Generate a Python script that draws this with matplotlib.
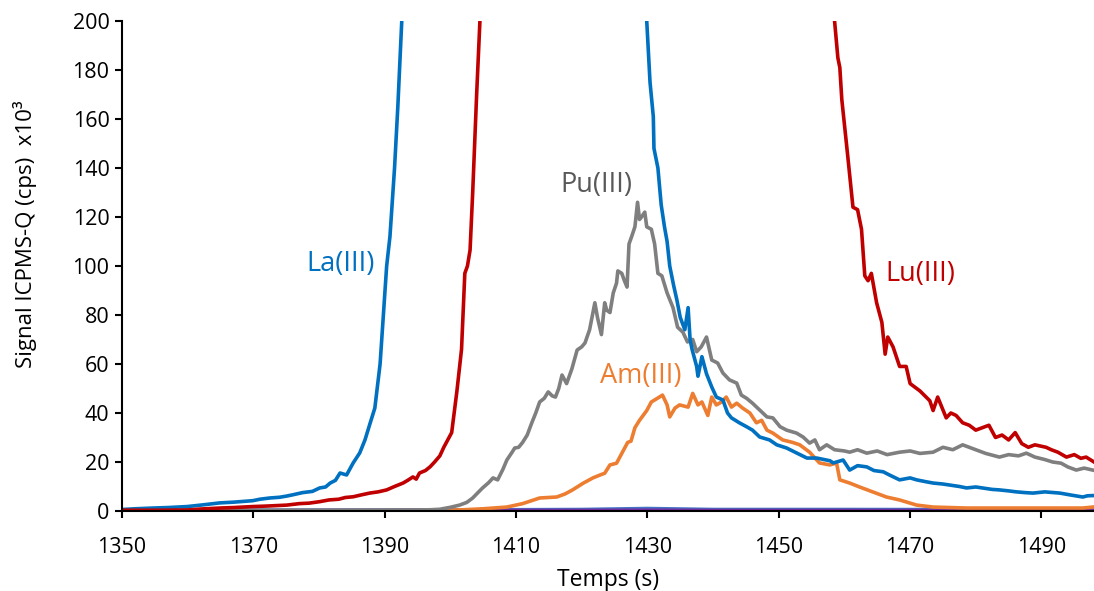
import numpy as np
import matplotlib
matplotlib.use("Agg")
import matplotlib.pyplot as plt

plt.rcParams['font.family'] = ['Open Sans', 'DejaVu Sans']

# Temps (s) et signal (cps x10^3)
t_la = [1350, 1352, 1354.7, 1357, 1359.9, 1362, 1364.9, 1367, 1369.9, 1371, 1372.5, 1374,
        1375.1, 1376, 1377.5, 1379, 1380.1, 1381, 1381.7, 1382.5, 1383.2, 1384.2, 1385.2,
        1386.2, 1387, 1387.8, 1388.5, 1389.3, 1389.8, 1390.3, 1390.8, 1391.5, 1392, 1392.6,
        1393.2, 1395, 1400, 1410, 1420, 1428, 1429.3, 1429.9, 1430.4, 1430.9, 1431.0, 1431.6,
        1432.1, 1432.6, 1433, 1433.4, 1434, 1434.5, 1435, 1435.7, 1436.2, 1436.5, 1436.8,
        1437.5, 1437.7, 1438.3, 1439, 1439.8, 1440.5, 1441.5, 1442.2, 1442.8, 1444, 1445.1,
        1446, 1447.1, 1448.6, 1449.7, 1451.2, 1452.7, 1454.3, 1455.8, 1457.8, 1458.3, 1459.8,
        1460.8, 1462, 1463.4, 1464.5, 1465.9, 1467, 1468.4, 1470, 1471, 1472.3, 1473.5, 1475,
        1476, 1477.5, 1478.6, 1480, 1481, 1482.5, 1483.6, 1485, 1486.2, 1487.5, 1488.7, 1490.5,
        1492.8, 1494.5, 1496.3, 1497, 1498]
la = [0.6, 0.9, 1.2, 1.4, 1.8, 2.4, 3.3, 3.6, 4.2, 4.8, 5.3, 5.6, 6.1, 6.6, 7.5, 8.0, 9.4, 9.8,
      11.4, 12.5, 15.5, 14.7, 19.6, 23.7, 29, 36, 42, 60, 80, 100, 112, 140, 165, 200, 240, 400,
      900, 1500, 900, 300, 230, 200, 175, 161, 148, 140, 125, 116, 110, 100, 92, 86, 79, 74, 83,
      70, 66, 59, 55, 63, 56, 50.6, 46.5, 45.3, 40, 38, 36, 34.4, 33, 30.2, 29, 27, 25.7, 23.7,
      21.6, 21.6, 20.5, 19.6, 20.8, 16.7, 18.5, 18, 16.5, 16, 14.5, 12.7, 13.5, 12.7, 12, 11.4,
      11, 10.6, 10, 9.4, 9.8, 9.4, 8.8, 8.6, 8.2, 7.8, 7.5, 7.3, 7.8, 7.3, 6.5, 5.7, 6.2, 6.3]

t_lu = [1350, 1355, 1359.9, 1362, 1364.9, 1367, 1369.9, 1372, 1375.1, 1377, 1378.5, 1380.1,
        1381.5, 1383, 1384, 1385.2, 1386.5, 1387.7, 1389, 1390.3, 1391.5, 1392.8, 1393.5,
        1394.3, 1394.8, 1395.3, 1396.2, 1396.9, 1397.6, 1398.4, 1399, 1399.6, 1400.2, 1401,
        1401.7, 1402.2, 1402.6, 1403, 1403.4, 1404, 1404.5, 1405, 1410, 1430, 1450, 1457,
        1458.5, 1459, 1459.3, 1459.6, 1460.5, 1461.3, 1462, 1462.6, 1463.1, 1463.6, 1464.1,
        1464.9, 1465.7, 1466.2, 1466.6, 1467.4, 1468.4, 1469.4, 1470, 1471.5, 1473, 1473.5,
        1474.2, 1475.5, 1476.2, 1477, 1478, 1479, 1480, 1481, 1482, 1483, 1484, 1485, 1486,
        1487, 1488, 1489, 1490.7, 1491.5, 1492.5, 1493.8, 1495, 1496, 1496.8, 1498]
lu = [0.3, 0.3, 0.4, 0.8, 1.2, 1.4, 1.8, 2.0, 2.4, 3.0, 3.2, 3.8, 4.5, 4.8, 5.5, 5.8, 6.6, 7.3,
      7.8, 8.6, 10, 11.4, 12.5, 13.9, 13, 15.5, 16.5, 18, 20, 22.5, 26, 29, 32, 49, 66, 97, 100,
      106.5, 130, 170, 200, 240, 600, 1000, 500, 260, 200, 185, 181, 168, 145, 124, 123, 115, 96,
      94, 97, 85, 77, 64, 71, 67, 59, 59, 52, 49, 45, 41, 46.5, 38, 40, 39, 36, 35, 33, 34, 35,
      30, 31, 29, 32, 27.5, 26, 27, 26, 25, 24, 22, 23, 21.5, 22, 20]

t_pu = [1350, 1360, 1370, 1380, 1390, 1395, 1397, 1398.4, 1400, 1401.4, 1402.5, 1403.4, 1404.2,
        1404.9, 1405.8, 1406.5, 1407.2, 1408, 1408.6, 1409.4, 1409.8, 1410.4, 1411, 1411.7,
        1412.4, 1413, 1413.6, 1414.3, 1414.9, 1415.5, 1416, 1416.5, 1417, 1417.7, 1418.5,
        1419.3, 1420, 1420.5, 1421.2, 1422, 1422.4, 1423, 1423.5, 1423.8, 1424.3, 1424.8,
        1425.3, 1425.5, 1426.1, 1426.5, 1426.9, 1427.2, 1427.6, 1428.1, 1428.5, 1428.8, 1429.1,
        1429.6, 1429.9, 1430.6, 1431.1, 1431.6, 1432.2, 1433, 1433.9, 1434.6, 1435.4, 1436.1,
        1436.9, 1437.5, 1438.2, 1439, 1439.8, 1440.7, 1441.5, 1442.5, 1443.6, 1444.3, 1445.1,
        1446, 1447.1, 1448.2, 1449.1, 1450.2, 1451.2, 1452.7, 1453.7, 1454.7, 1455.5, 1456.2,
        1457.3, 1458.5, 1460, 1460.8, 1462, 1463.4, 1465, 1466.5, 1468.4, 1470, 1471.5, 1473.5,
        1475, 1476.5, 1478, 1479, 1480, 1481.5, 1483.6, 1485, 1486.5, 1487.7, 1489, 1490.5,
        1491.7, 1493, 1494, 1495.3, 1496.5, 1497.8]
pu = [0.3, 0.3, 0.3, 0.3, 0.4, 0.4, 0.5, 0.7, 1.5, 2.4, 3.5, 5.3, 7.5, 9.4, 11.5, 13.5, 12.7, 17,
      20.8, 24, 25.7, 26, 28, 31, 36, 40, 44.5, 46, 48.6, 47, 46.5, 50, 55.5, 52, 58, 65.7, 67,
      68.6, 74, 85, 79, 72, 85, 82, 81, 89, 93, 98, 97, 94, 91.4, 109, 112, 116, 126, 119, 120,
      122, 116, 115, 109, 97, 96, 89, 83, 75, 73, 69, 70, 65, 67, 71, 61.6, 60.4, 56.3, 53.5,
      52.2, 47.3, 46, 44, 41.2, 38.4, 38, 34.4, 33, 31.8, 30.2, 27.7, 29, 25, 27, 25, 24.5, 24,
      25, 23.6, 24.5, 23, 24, 24.5, 23.5, 24, 26, 25, 27, 26, 25, 23.5, 22, 23, 22.5, 23.6, 22,
      21, 20, 19.5, 18, 16.7, 17.5, 16.7]

t_am = [1350, 1390, 1398.4, 1402, 1405, 1408.6, 1411, 1413.6, 1416.2, 1417.5, 1418.6, 1420.2,
        1421.7, 1422.8, 1423.5, 1424.3, 1425.3, 1426.2, 1427, 1427.5, 1428.1, 1428.8, 1429.9,
        1430.6, 1431.1, 1432.3, 1433, 1433.4, 1434.2, 1434.9, 1436.2, 1436.9, 1437.7, 1438.3,
        1439.2, 1439.8, 1440.5, 1441.3, 1442, 1442.8, 1443.6, 1444.5, 1445.6, 1446.6, 1447.4,
        1448.2, 1449.1, 1450.6, 1452.1, 1453.2, 1454.7, 1456.2, 1457.8, 1458.8, 1459.3, 1460.8,
        1462.3, 1464.3, 1466.4, 1468.4, 1471, 1473.5, 1478.6, 1488.7, 1496.3, 1497.8]
am = [0, 0, 0.2, 0.5, 0.9, 1.6, 3, 5.3, 5.7, 7, 8.6, 11.3, 13.5, 14.7, 15.4, 18.8, 19.5, 24, 28,
      28.5, 34, 37, 41, 44.5, 45.3, 47.3, 43.3, 38.4, 42, 43.3, 42.4, 48, 43.3, 44.5, 39, 46.5,
      43.3, 44.5, 46.5, 42.4, 44, 42, 40, 36, 37, 33, 31.8, 29, 28, 27, 24, 19.6, 18.8, 19.6, 12.7,
      11.4, 9.8, 7.8, 5.7, 4.5, 2.4, 1.6, 1.2, 1.2, 1.2, 1.6]

# signaux de fond proches de zéro
t_fond = [1350, 1400, 1420, 1430, 1440, 1460, 1498]
fond_bleu = [0.2, 0.4, 0.6, 1.0, 0.6, 0.6, 0.5]
fond_violet = [0.1, 0.2, 0.2, 0.3, 0.2, 0.2, 0.2]

x_ticks = np.arange(1350, 1491, 20)
y_ticks = np.arange(0, 201, 20)

fig = plt.figure(figsize=(10.94, 5.91), dpi=100)
ax = fig.add_axes([0.1115, 0.1354, 0.8885, 0.829])

lw = 2.6
ax.plot(t_fond, fond_bleu, color='#4472C4', lw=lw)
ax.plot(t_fond, fond_violet, color='#7030A0', lw=lw)
ax.plot(t_am, am, color='#ED7D31', lw=lw)
ax.plot(t_pu, pu, color='#7F7F7F', lw=lw)
ax.plot(t_la, la, color='#0070C0', lw=lw)
ax.plot(t_lu, lu, color='#C00000', lw=lw)

fs_annot = 19.5
ax.text(1383.3, 101, 'La(III)', color='#0070C0', fontsize=fs_annot, ha='center', va='center')
ax.text(1422.3, 133, 'Pu(III)', color='#595959', fontsize=fs_annot, ha='center', va='center')
ax.text(1429, 55, 'Am(III)', color='#ED7D31', fontsize=fs_annot, ha='center', va='center')
ax.text(1471.5, 96.7, 'Lu(III)', color='#C00000', fontsize=fs_annot, ha='center', va='center')

ax.set_xlim(1350, 1498)
ax.set_ylim(0, 200)
ax.set_xticks(x_ticks)
ax.set_yticks(y_ticks)
ax.spines['top'].set_visible(False)
ax.spines['right'].set_visible(False)
for s in ('left', 'bottom'):
    ax.spines[s].set_linewidth(1.5)
ax.tick_params(axis='both', length=5, width=1.5, labelsize=15.5, colors='black')
ax.tick_params(axis='x', pad=14)
ax.tick_params(axis='y', pad=4)

ax.set_xlabel('Temps (s)', fontsize=16.5, labelpad=7)
ax.set_ylabel('Signal ICPMS-Q (cps)  x10³', fontsize=16, va='center')
ax.yaxis.set_label_coords(-0.1, 0.565)

fig.savefig('out.png', dpi=100)
